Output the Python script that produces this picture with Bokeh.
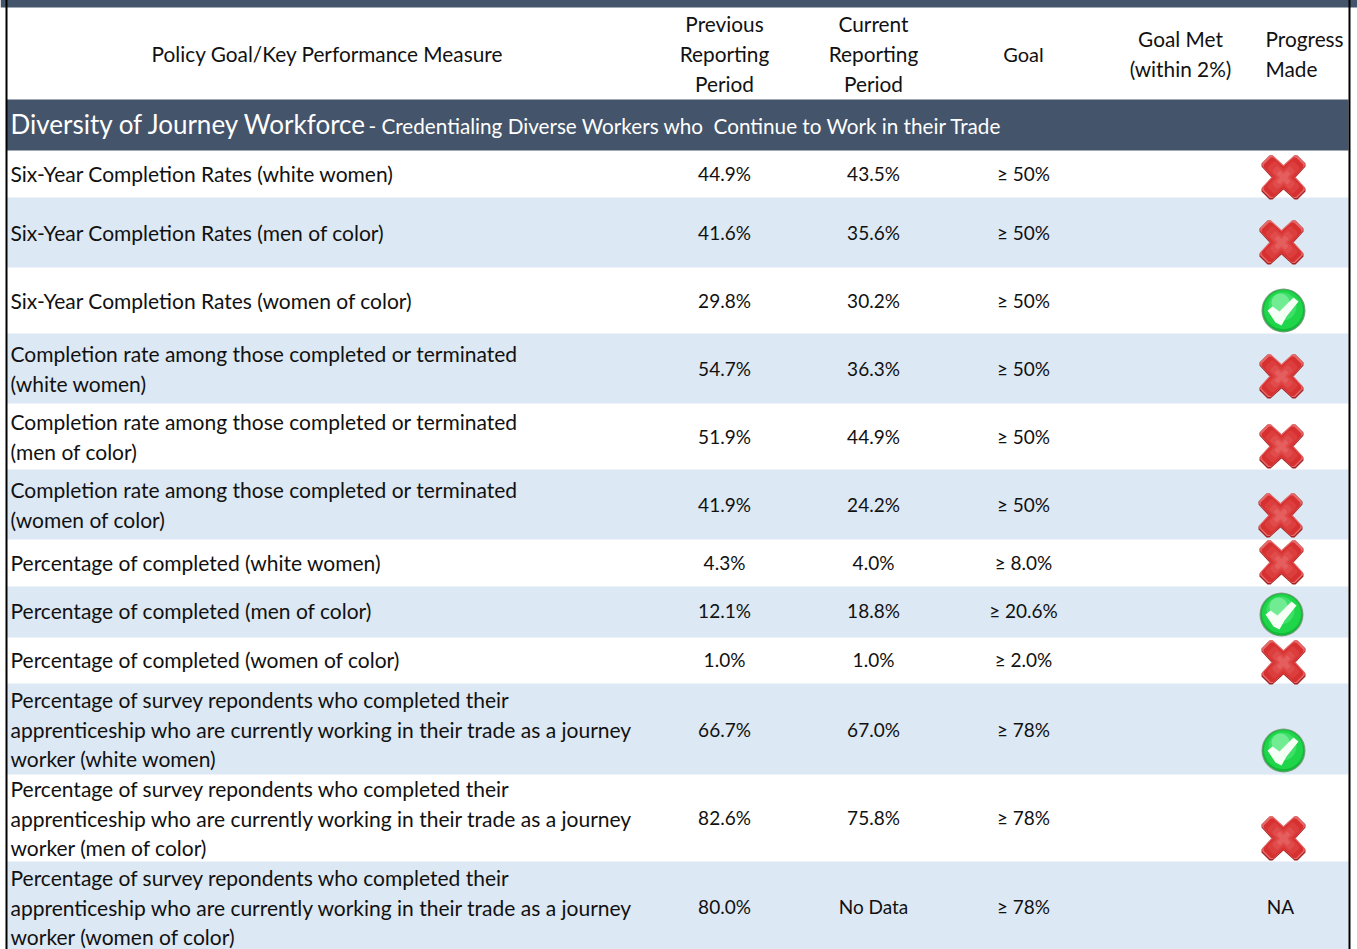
from bokeh.plotting import figure
from bokeh.embed import file_html
from bokeh.resources import INLINE
from bokeh.core.properties import value
from bokeh.models import Range1d

# ---- data ----
header_measure = "Policy Goal/Key Performance Measure"
header_prev = ["Previous", "Reporting", "Period"]
header_curr = ["Current", "Reporting", "Period"]
header_goal = "Goal"
header_met = ["Goal Met", "(within 2%)"]
header_prog = ["Progress", "Made"]
banner_big = "Diversity of Journey Workforce"
banner_small = "- Credentialing Diverse Workers who \u00a0Continue to Work in their Trade"
measures = [
    ["Six-Year Completion Rates (white women)"],
    ["Six-Year Completion Rates (men of color)"],
    ["Six-Year Completion Rates (women of color)"],
    ["Completion rate among those completed or terminated", "(white women)"],
    ["Completion rate among those completed or terminated", "(men of color)"],
    ["Completion rate among those completed or terminated", "(women of color)"],
    ["Percentage of completed (white women)"],
    ["Percentage of completed (men of color)"],
    ["Percentage of completed (women of color)"],
    ["Percentage of survey repondents who completed their", "apprenticeship who are currently working in their trade as a journey", "worker (white women)"],
    ["Percentage of survey repondents who completed their", "apprenticeship who are currently working in their trade as a journey", "worker (men of color)"],
    ["Percentage of survey repondents who completed their", "apprenticeship who are currently working in their trade as a journey", "worker (women of color)"],
]
previous = ["44.9%", "41.6%", "29.8%", "54.7%", "51.9%", "41.9%", "4.3%", "12.1%", "1.0%", "66.7%", "82.6%", "80.0%"]
current = ["43.5%", "35.6%", "30.2%", "36.3%", "44.9%", "24.2%", "4.0%", "18.8%", "1.0%", "67.0%", "75.8%", "No Data"]
goals = ["\u2265 50%", "\u2265 50%", "\u2265 50%", "\u2265 50%", "\u2265 50%", "\u2265 50%", "\u2265 8.0%", "\u2265 20.6%", "\u2265 2.0%", "\u2265 78%", "\u2265 78%", "\u2265 78%"]
progress = ["x", "x", "c", "x", "x", "x", "x", "c", "x", "c", "x", "NA"]

# ---- layout ----
W, H = 1357, 949
row_edges = [150, 197, 267, 333, 403, 469, 539, 586, 637, 683, 774, 861, 949]
text_first_y = [174, 233, 301, 354, 422, 490, 563, 611, 660, 700, 789, 878]
value_y = [174, 233, 301, 369, 437, 505, 563, 611, 660, 730, 818, 907]
icon_xy = [(1283, 177), (1281, 242), (1283, 310), (1281, 376), (1281, 446), (1280, 515),
           (1281, 562), (1281, 614), (1283, 662), (1283, 750), (1283, 838), None]
X_PREV, X_CURR, X_GOAL, X_MET = 724, 873, 1023, 1180
FONT = value("Lato")
SZ_LABEL = "21px"
SZ_HEAD = "20.8px"
SZ_VALUE = "19px"
INK = "#111111"
DY = -1
BLEED = 3

p = figure(width=W, height=H + BLEED, x_range=Range1d(0, W), y_range=Range1d(H, -BLEED),
           output_backend="svg", toolbar_location=None, min_border=0,
           outline_line_color=None, background_fill_color="white", border_fill_color="white")
p.axis.visible = False
p.grid.visible = False
p.styles = {"position": "absolute", "left": "0px", "top": f"-{BLEED}px"}

def txt(x, y, s, align="left", size=SZ_LABEL, color=INK):
    p.text([x], [y + DY], text=[s], text_font=FONT, text_font_size=size, text_color=color,
           text_align=align, text_baseline="middle")

# backgrounds
p.quad(left=[0], right=[W], top=[-5], bottom=[7], color="#44546A", line_color=None)
p.quad(left=[6], right=[1348], top=[99], bottom=[150], color="#44546A", line_color=None)
for i in range(12):
    if i % 2 == 1:
        p.quad(left=[6], right=[1348], top=[row_edges[i]], bottom=[row_edges[i + 1]],
               color="#DCE8F3", line_color=None)
# frame
p.quad(left=[5], right=[7], top=[-5], bottom=[H + 5], color="black", line_color=None)
p.quad(left=[1348], right=[1350], top=[-5], bottom=[H + 5], color="black", line_color=None)

# header
txt(327, 54, header_measure, "center", SZ_HEAD)
for i, s in enumerate(header_prev):
    txt(X_PREV, [24, 54, 84][i], s, "center", SZ_HEAD)
for i, s in enumerate(header_curr):
    txt(X_CURR, [24, 54, 84][i], s, "center", SZ_HEAD)
txt(X_GOAL, 54, header_goal, "center", "20px")
for i, s in enumerate(header_met):
    txt(X_MET, [39, 69][i], s, "center", SZ_HEAD)
for i, s in enumerate(header_prog):
    txt(1265, [39, 69][i], s, "left", SZ_HEAD)

# banner
txt(10, 124, banner_big, size="26px", color="#ffffff")
txt(368, 126, banner_small, size="20.7px", color="#ffffff")

# rows
for i in range(12):
    for j, line in enumerate(measures[i]):
        txt(10, text_first_y[i] + j * 29.7, line)
    txt(X_PREV, value_y[i], previous[i], "center", SZ_VALUE)
    txt(X_CURR, value_y[i], current[i], "center", SZ_VALUE)
    txt(X_GOAL, value_y[i], goals[i], "center", SZ_VALUE)

X_SHAPE = [(-12, 0), (-22, -11), (-22, -14), (-14, -22), (-11, -22), (0, -12),
           (11, -22), (14, -22), (22, -14), (22, -11), (12, 0),
           (22, 11), (22, 14), (14, 22), (11, 22), (0, 12),
           (-11, 22), (-14, 22), (-22, 14), (-22, 11)]
CHECK = [(-16, 0), (-11, -4), (-4, 1), (10, -13), (15, -9), (3, 6), (-2, 15), (-8, 12)]

def draw_x(cx, cy):
    p.patch([cx + a for a, b in X_SHAPE], [cy + b for a, b in X_SHAPE], color="#A32222", line_color=None)
    for s, dy, c in [(0.97, -0.8, "#E66A6A"), (0.9, -0.3, "#D63030"), (0.72, -0.2, "#DC3E3E"),
                     (0.5, 0, "#E04C4C"), (0.3, 0, "#E55E5E")]:
        p.patch([cx + a * s for a, b in X_SHAPE], [cy + dy + b * s for a, b in X_SHAPE], color=c, line_color=None)

def draw_c(cx, cy):
    p.circle([cx], [cy], radius=22, color="#7FA085", line_color=None)
    p.circle([cx], [cy], radius=21, color="#14B838", line_color=None)
    p.circle([cx], [cy - 0.8], radius=19.5, color="#1FD54A", line_color=None)
    p.circle([cx - 1], [cy - 4], radius=14, color="#3FE069", line_color=None)
    p.circle([cx - 3], [cy - 8], radius=9, color="#72EC93", line_color=None)
    p.patch([cx + a for a, b in CHECK], [cy + b for a, b in CHECK], color="#F6FFF6", line_color=None)

for i, m in enumerate(progress):
    if m == "x":
        draw_x(*icon_xy[i])
    elif m == "c":
        draw_c(*icon_xy[i])
    else:
        txt(1280, value_y[i], m, "center", SZ_VALUE)

open("out.html", "w").write(file_html(p, INLINE))
